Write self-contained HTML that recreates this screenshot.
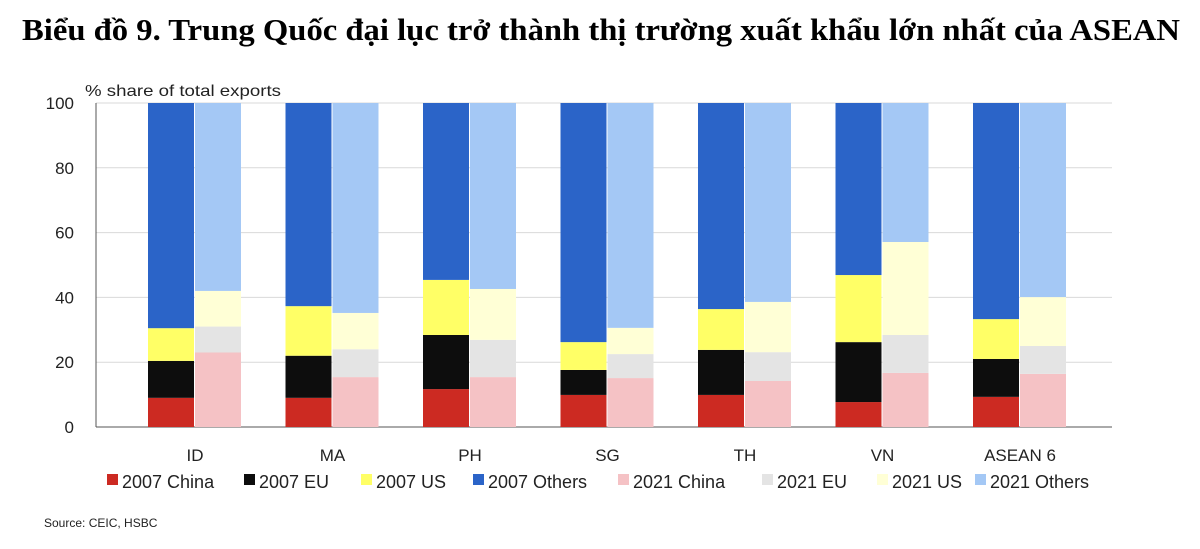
<!DOCTYPE html>
<html><head><meta charset="utf-8"><style>
body{margin:0;background:#fff;width:1200px;height:544px;overflow:hidden;font-family:"Liberation Sans",sans-serif}
</style></head><body>
<svg width="1200" height="544" xmlns="http://www.w3.org/2000/svg">
<text x="22" y="40" textLength="1158" lengthAdjust="spacingAndGlyphs" font-family="Liberation Serif, serif" font-weight="bold" font-size="31">Biểu đồ 9. Trung Quốc đại lục trở thành thị trường xuất khẩu lớn nhất của ASEAN</text>
<text x="85" y="96" font-size="16" textLength="196" lengthAdjust="spacingAndGlyphs" fill="#222">% share of total  exports</text>
<g id="grid"></g><g id="bars"></g><g id="xl"></g><g id="legend"></g>
<text x="44" y="527" font-size="12" fill="#222">Source: CEIC, HSBC</text>
</svg>
<script>
const categories=["ID","MA","PH","SG","TH","VN","ASEAN 6"];
const china2007=[9,9,11.7,9.9,9.9,7.7,9.3];
const eu2007=[11.4,13,16.7,7.7,13.9,18.5,11.7];
const us2007=[10.1,15.3,17,8.6,12.6,20.7,12.3];
const china2021=[23,15.4,15.4,15.1,14.2,16.7,16.4];
const eu2021=[8,8.6,11.5,7.4,8.9,11.7,8.6];
const us2021=[11,11.2,15.7,8.1,15.5,28.7,15.1];
const yTicks=[0,20,40,60,80,100];
const seriesNames=["2007 China","2007 EU","2007 US","2007 Others","2021 China","2021 EU","2021 US","2021 Others"];
const colors=["#cc2a22","#0d0d0d","#ffff66","#2b64c8","#f5c2c5","#e4e4e4","#ffffd6","#a4c8f5"];
const NS="http://www.w3.org/2000/svg";
const y=v=>427-v*3.24;
const gx=i=>195+i*137.5;
function mk(t,a,p){const e=document.createElementNS(NS,t);for(const k in a)e.setAttribute(k,a[k]);p.appendChild(e);return e;}
const grid=document.getElementById('grid');
yTicks.forEach(t=>{
 const l=mk('line',{x1:96,x2:1112,y1:y(t),y2:y(t),stroke:t===0?'#555':'#d9d9d9','stroke-width':1},grid);
 
 
 const tx=mk('text',{x:74,y:y(t)+6,'text-anchor':'end','font-size':17,fill:'#222'},grid);tx.textContent=t;
 
 
});
const ax=mk('line',{x1:96,x2:96,y1:103,y2:427,stroke:'#555'},grid);


const bars=document.getElementById('bars');
categories.forEach((c,i)=>{
 [[china2007,eu2007,us2007],[china2021,eu2021,us2021]].forEach((set,k)=>{
  const x=gx(i)-47+k*47;let cum=0;
  const vals=[set[0][i],set[1][i],set[2][i]];vals.push(100-vals[0]-vals[1]-vals[2]);
  vals.forEach((v,s)=>{
   const r=mk('rect',{x:x,y:y(cum+v),width:46,height:v*3.24,fill:colors[k*4+s]},bars);
   
   
   cum+=v;
  });
 });
 const t=mk('text',{x:gx(i),y:461,'text-anchor':'middle','font-size':17,fill:'#222'},document.getElementById('xl'));t.textContent=c;
 
 
});
const lg=document.getElementById('legend');
const lx=[107,244,361,473,618,762,877,975];
seriesNames.forEach((n,i)=>{
 const g=mk('g',{},lg);
 
 
 mk('rect',{x:lx[i],y:474,width:11,height:11,fill:colors[i]},g);
 const t=mk('text',{x:lx[i]+15,y:488,'font-size':18,fill:'#222'},g);t.textContent=n;
});
</script>
</body></html>
